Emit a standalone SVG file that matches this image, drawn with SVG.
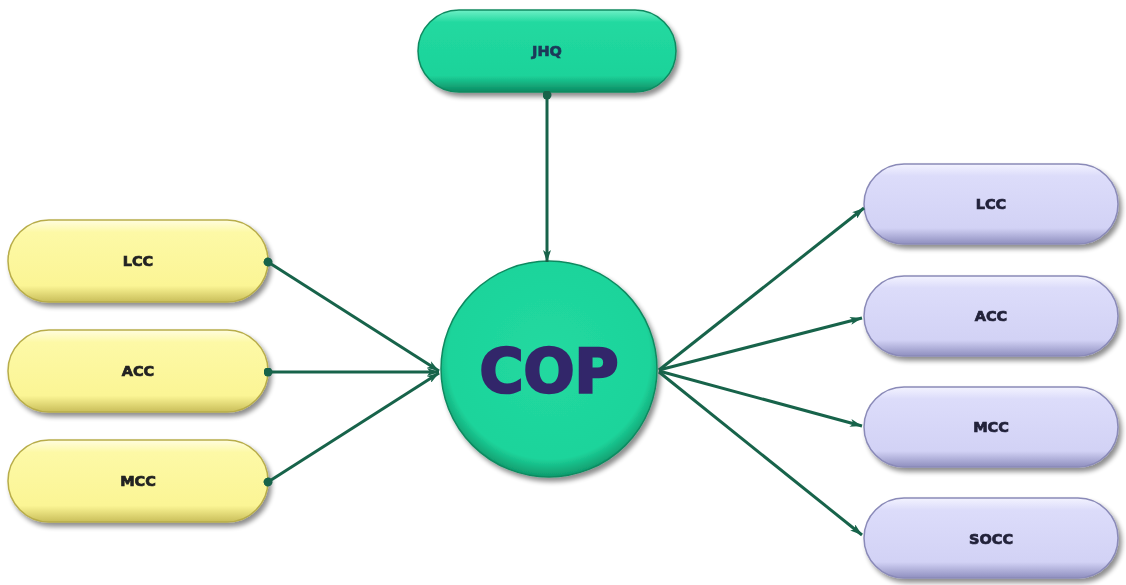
<svg xmlns="http://www.w3.org/2000/svg" width="1126" height="585" viewBox="0 0 1126 585">
<defs>
<style>
.lbl{font-family:"DejaVu Sans","Liberation Sans",sans-serif;font-weight:bold;font-size:14.5px;text-anchor:middle;dominant-baseline:central;stroke-width:0.7px}
.conn{stroke:#17634a;stroke-width:3;fill:none}
</style>
<filter id="sh" x="-20%" y="-30%" width="140%" height="170%">
<feGaussianBlur in="SourceAlpha" stdDeviation="2.5"/>
<feOffset dx="3" dy="4" result="b"/>
<feComponentTransfer><feFuncA type="linear" slope="0.45"/></feComponentTransfer>
<feMerge><feMergeNode/><feMergeNode in="SourceGraphic"/></feMerge>
</filter>
<linearGradient id="gY" x1="0" y1="0" x2="0" y2="1">
<stop offset="0" stop-color="#fffde0"/><stop offset="0.15" stop-color="#fdf9a6"/><stop offset="0.8" stop-color="#fbf595"/><stop offset="1" stop-color="#c9be5a"/>
</linearGradient>
<linearGradient id="gL" x1="0" y1="0" x2="0" y2="1">
<stop offset="0" stop-color="#f3f3ff"/><stop offset="0.15" stop-color="#dcdcfa"/><stop offset="0.8" stop-color="#d2d2f5"/><stop offset="1" stop-color="#8f8fbf"/>
</linearGradient>
<linearGradient id="gG" x1="0" y1="0" x2="0" y2="1">
<stop offset="0" stop-color="#6ff0c6"/><stop offset="0.15" stop-color="#22d9a0"/><stop offset="0.8" stop-color="#1cd39a"/><stop offset="1" stop-color="#0d8a62"/>
</linearGradient>
<radialGradient id="gC" cx="0.5" cy="0.45" r="0.55">
<stop offset="0" stop-color="#22d9a0"/><stop offset="0.85" stop-color="#1dd49b"/><stop offset="1" stop-color="#0f9a6c"/>
</radialGradient>
<marker id="arr" viewBox="0 0 12 8" refX="12" refY="4" markerWidth="12" markerHeight="8" markerUnits="userSpaceOnUse" orient="auto">
<path d="M0,0 L12,4 L0,8 L3,4 Z" fill="#17634a"/>
</marker>
<marker id="dot" viewBox="0 0 8 8" refX="4" refY="4" markerWidth="9" markerHeight="9" markerUnits="userSpaceOnUse" orient="auto">
<circle cx="4" cy="4" r="4" fill="#17634a"/>
</marker>
</defs>
<rect width="1126" height="585" fill="#ffffff"/>

<g id="JHQ" filter="url(#sh)">
<rect x="418" y="10" width="258" height="82" rx="41" fill="url(#gG)" stroke="#0f8a60" stroke-width="1.5"/>
<text class="lbl" x="547" y="51" fill="#1e3a5a" stroke="#1e3a5a">JHQ</text>
</g>

<g id="COP" filter="url(#sh)">
<circle cx="549" cy="369" r="108" fill="url(#gC)" stroke="#0f8a60" stroke-width="1.5"/>
<text x="549" y="371" font-family="'DejaVu Sans','Liberation Sans',sans-serif" font-weight="bold" font-size="60" text-anchor="middle" dominant-baseline="central" fill="#33286a" stroke="#33286a" stroke-width="2.5">COP</text>
</g>

<g id="L_LCC" filter="url(#sh)">
<rect x="8" y="220" width="260" height="82" rx="41" fill="url(#gY)" stroke="#b8ad4a" stroke-width="1.5"/>
<text class="lbl" x="138" y="261" fill="#222222" stroke="#222222">LCC</text>
</g>
<g id="L_ACC" filter="url(#sh)">
<rect x="8" y="330" width="260" height="82" rx="41" fill="url(#gY)" stroke="#b8ad4a" stroke-width="1.5"/>
<text class="lbl" x="138" y="371" fill="#222222" stroke="#222222">ACC</text>
</g>
<g id="L_MCC" filter="url(#sh)">
<rect x="8" y="440" width="260" height="82" rx="41" fill="url(#gY)" stroke="#b8ad4a" stroke-width="1.5"/>
<text class="lbl" x="138" y="481" fill="#222222" stroke="#222222">MCC</text>
</g>

<g id="R_LCC" filter="url(#sh)">
<rect x="864" y="164" width="254" height="80" rx="40" fill="url(#gL)" stroke="#8a8ab8" stroke-width="1.5"/>
<text class="lbl" x="991" y="204" fill="#22223a" stroke="#22223a">LCC</text>
</g>
<g id="R_ACC" filter="url(#sh)">
<rect x="864" y="276" width="254" height="80" rx="40" fill="url(#gL)" stroke="#8a8ab8" stroke-width="1.5"/>
<text class="lbl" x="991" y="316" fill="#22223a" stroke="#22223a">ACC</text>
</g>
<g id="R_MCC" filter="url(#sh)">
<rect x="864" y="387" width="254" height="80" rx="40" fill="url(#gL)" stroke="#8a8ab8" stroke-width="1.5"/>
<text class="lbl" x="991" y="427" fill="#22223a" stroke="#22223a">MCC</text>
</g>
<g id="R_SOCC" filter="url(#sh)">
<rect x="864" y="498" width="254" height="80" rx="40" fill="url(#gL)" stroke="#8a8ab8" stroke-width="1.5"/>
<text class="lbl" x="991" y="539" fill="#22223a" stroke="#22223a">SOCC</text>
</g>

<g id="connectors">
<line class="conn" x1="547" y1="95" x2="547" y2="262" marker-start="url(#dot)" marker-end="url(#arr)"/>
<line class="conn" x1="268" y1="262" x2="439" y2="371" marker-start="url(#dot)" marker-end="url(#arr)"/>
<line class="conn" x1="268" y1="372" x2="439" y2="372" marker-start="url(#dot)" marker-end="url(#arr)"/>
<line class="conn" x1="268" y1="482" x2="439" y2="373" marker-start="url(#dot)" marker-end="url(#arr)"/>
<line class="conn" x1="659" y1="370" x2="864" y2="208" marker-end="url(#arr)"/>
<line class="conn" x1="659" y1="370" x2="862" y2="318" marker-end="url(#arr)"/>
<line class="conn" x1="659" y1="371" x2="862" y2="426" marker-end="url(#arr)"/>
<line class="conn" x1="659" y1="372" x2="862" y2="535" marker-end="url(#arr)"/>
</g>
</svg>
